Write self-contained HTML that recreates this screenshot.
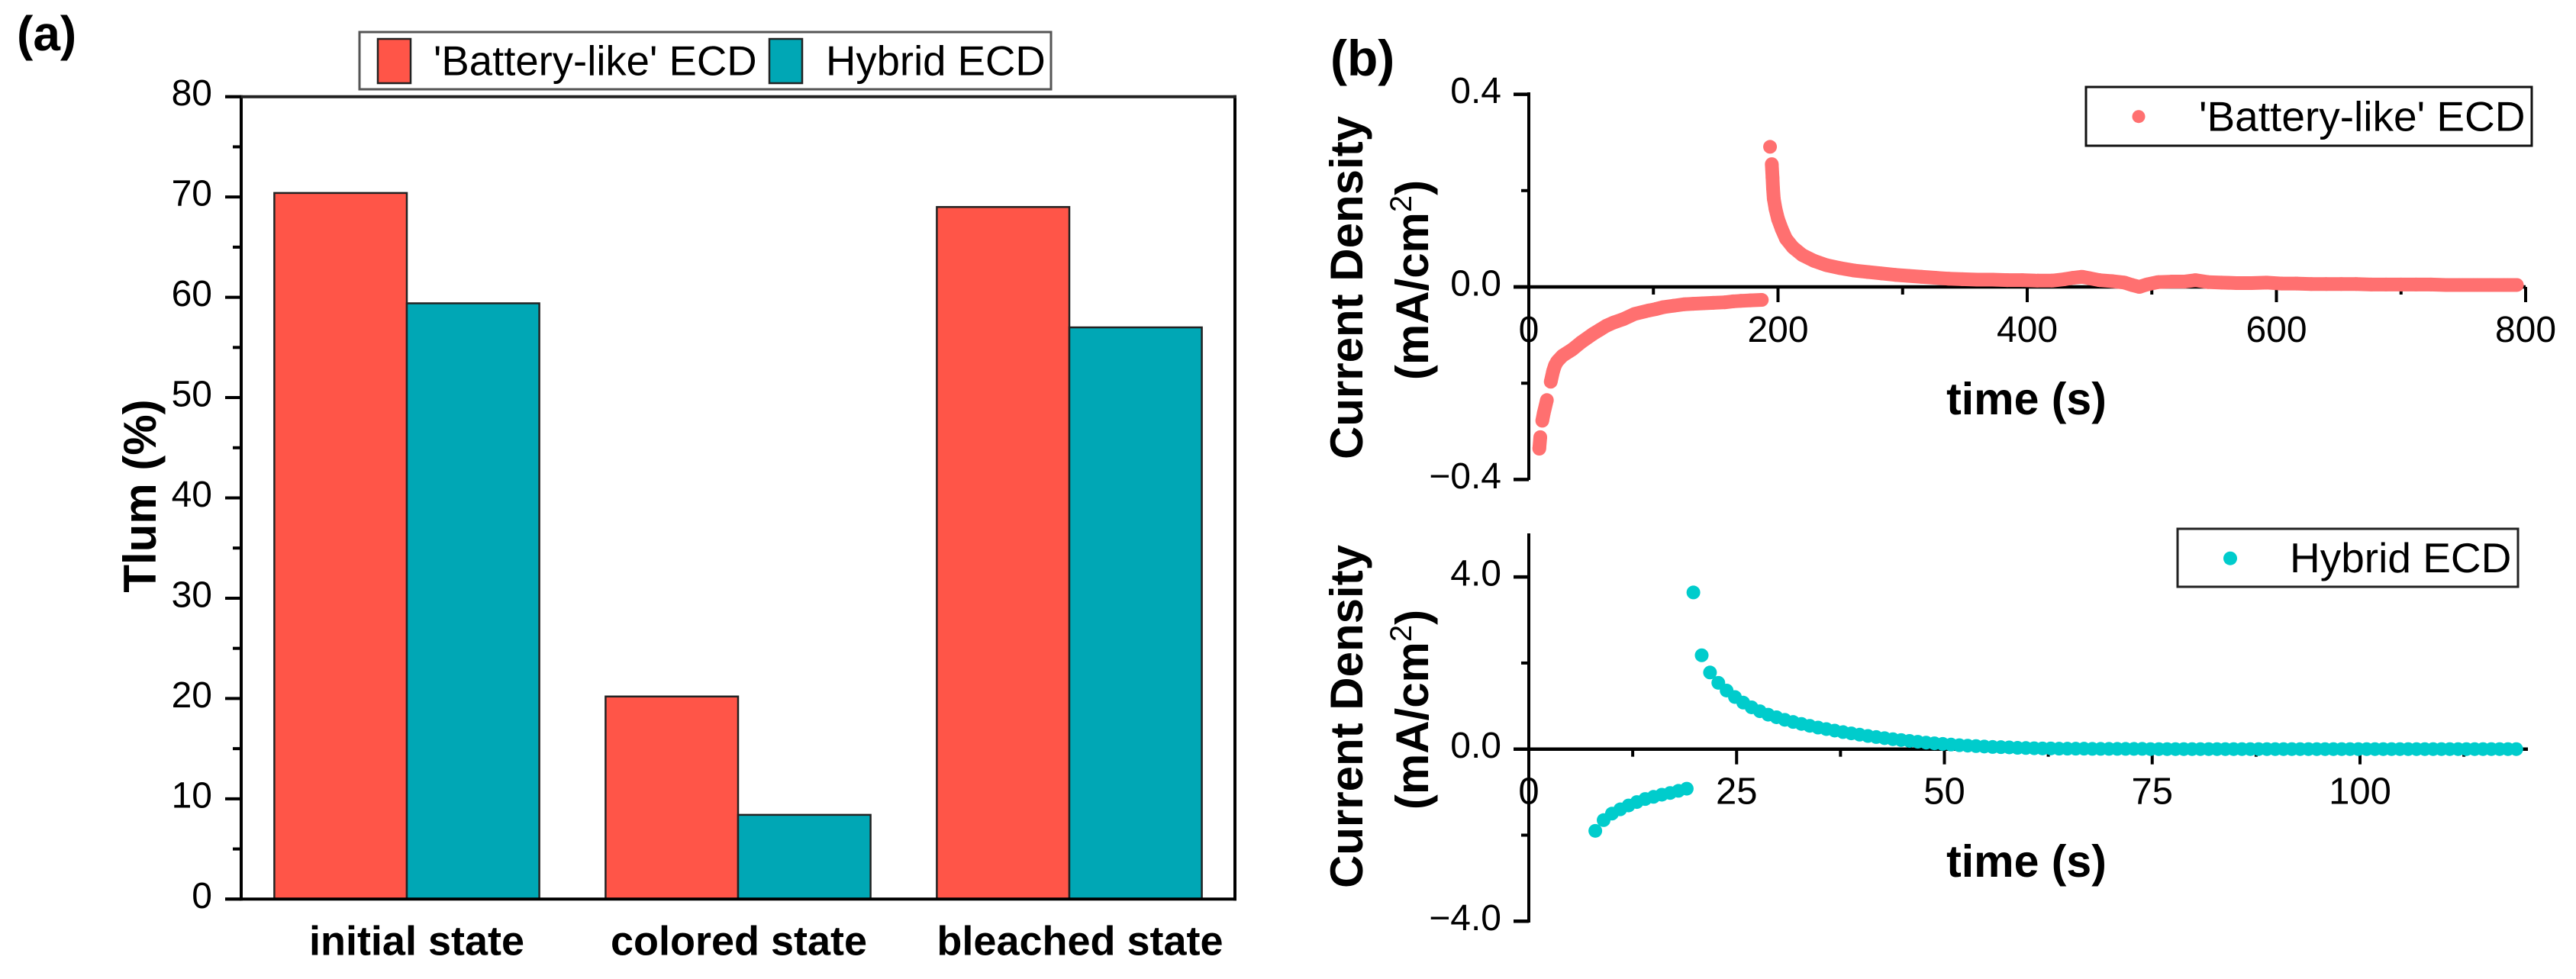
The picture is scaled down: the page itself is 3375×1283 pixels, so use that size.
<!DOCTYPE html>
<html lang="en">
<head>
<meta charset="utf-8">
<title>Tlum and current density of ECDs</title>
<style>
  html,body{margin:0;padding:0;background:#fff;}
  svg{display:block;font-family:"Liberation Sans",Arial,sans-serif;}
  .bold{font-weight:bold;}
</style>
</head>
<body>
<svg id="fig" xmlns="http://www.w3.org/2000/svg" width="3375" height="1283" viewBox="0 0 3375 1283">
  <rect x="0" y="0" width="3375" height="1283" fill="#fff"/>

  <text class="bold" x="22" y="66" font-size="64">(a)</text>
  <text class="bold" x="1743" y="99" font-size="66">(b)</text>

  <g id="panelA"></g>
  <g id="panelB1"></g>
  <g id="panelB2"></g>

  <text class="bold" font-size="60" text-anchor="middle" transform="translate(204,650) rotate(-90)">Tlum (%)</text>

  <g>
    <rect x="471" y="42" width="906" height="75" fill="#fff" stroke="#555" stroke-width="3"/>
    <rect x="495" y="51" width="43" height="58" fill="#FF5548" stroke="#222" stroke-width="2.5"/>
    <text x="568" y="98.5" font-size="54.5">'Battery-like' ECD</text>
    <rect x="1008" y="51" width="43" height="58" fill="#00A7B5" stroke="#222" stroke-width="2.5"/>
    <text x="1082" y="98.5" font-size="54.5">Hybrid ECD</text>
  </g>

  <text class="bold" font-size="60" text-anchor="middle" transform="translate(1785,377) rotate(-90)">Current Density</text>
  <text class="bold" font-size="60" text-anchor="middle" transform="translate(1871,367) rotate(-90)">(mA/cm<tspan font-size="40" font-weight="normal" dy="-22">2</tspan><tspan dy="22">)</tspan></text>
  <text class="bold" font-size="59" text-anchor="middle" x="2655" y="543">time (s)</text>
  <g>
    <rect x="2733" y="114" width="584" height="77" fill="#fff" stroke="#111" stroke-width="3"/>
    <circle cx="2802" cy="152.7" r="8.5" fill="#FF7070"/>
    <text x="2881" y="171.7" font-size="55">'Battery-like' ECD</text>
  </g>

  <text class="bold" font-size="60" text-anchor="middle" transform="translate(1785,939) rotate(-90)">Current Density</text>
  <text class="bold" font-size="60" text-anchor="middle" transform="translate(1871,930) rotate(-90)">(mA/cm<tspan font-size="40" font-weight="normal" dy="-22">2</tspan><tspan dy="22">)</tspan></text>
  <text class="bold" font-size="59" text-anchor="middle" x="2655" y="1149">time (s)</text>
  <g>
    <rect x="2853" y="693" width="446" height="76" fill="#fff" stroke="#222" stroke-width="3"/>
    <circle cx="2922" cy="731.7" r="9" fill="#00CCCC"/>
    <text x="3000" y="750" font-size="55">Hybrid ECD</text>
  </g>
</svg>
<script>
// ---- panel (a) data ----
const barCategories = ['initial state', 'colored state', 'bleached state'];
const batteryBars = [70.4, 20.2, 69.0];
const hybridBars = [59.4, 8.4, 57.0];
const barTicks = [0, 10, 20, 30, 40, 50, 60, 70, 80];
const barMinorTicks = [5, 15, 25, 35, 45, 55, 65, 75];

// ---- panel (b) upper data ----
const batteryTime = [8.4,9.2,10.8,12,14.5,17.6,19.5,21,22.7,27,34.9,42,51.3,57,62,68,75.8,85,96.2,102,108,116.4,125,132,140,148,157.4,164,170,178,187,
  193.6,195,195.6,196,196.6,198,200,203,206.4,212,219.6,229,239,250,261,272,283,294,304.5,315,326,337,348,360,372,384,396,408,420,430,437,444,450,458,468,478,484,490,496,505,516,526,535,545,556,568,580,592,604,616,628,640,652,664,676,688,700,712,724,736,748,760,772,784,793];
const batteryCurrent = [-0.336,-0.312,-0.278,-0.262,-0.235,-0.197,-0.175,-0.163,-0.155,-0.143,-0.130,-0.115,-0.098,-0.089,-0.081,-0.074,-0.067,-0.056,-0.049,-0.046,-0.042,-0.039,-0.036,-0.035,-0.034,-0.033,-0.032,-0.030,-0.029,-0.028,-0.027,
  0.291,0.255,0.227,0.205,0.183,0.162,0.141,0.12,0.1,0.082,0.066,0.054,0.045,0.039,0.034,0.031,0.028,0.025,0.023,0.021,0.019,0.017,0.016,0.015,0.015,0.014,0.014,0.013,0.013,0.016,0.019,0.021,0.018,0.014,0.012,0.009,0.004,0,0.005,0.01,0.011,0.011,0.014,0.01,0.009,0.008,0.008,0.009,0.007,0.007,0.006,0.006,0.006,0.006,0.005,0.005,0.005,0.005,0.005,0.004,0.004,0.004,0.004,0.004,0.004];
const batteryXTicks = [0, 200, 400, 600, 800];
const batteryXMinor = [100, 300, 500, 700];
const batteryYTicks = ['0.4', '0.0', '\u22120.4'];
const batteryYValues = [0.4, 0, -0.4];
const batteryYMinor = [0.2, -0.2];

// ---- panel (b) lower data ----
const hybridTime = [8,9,10,11,12,13,14,15,16,17,18,19,
  19.8,20.8,21.8,22.8,23.8,24.8,25.8,26.8,27.8,28.8,29.8,30.8,31.8,32.8,33.8,34.8,35.8,36.8,37.8,38.8,39.8,40.8,41.8,42.8,43.8,44.8,45.8,46.8,47.8,48.8,49.8,50.8,51.8,52.8,53.8,54.8,55.8,56.8,57.8,58.8,59.8,60.8,61.8,62.8,63.8,64.8,65.8,66.8,67.8,68.8,69.8,70.8,71.8,72.8,73.8,74.8,75.8,76.8,77.8,78.8,79.8,80.8,81.8,82.8,83.8,84.8,85.8,86.8,87.8,88.8,89.8,90.8,91.8,92.8,93.8,94.8,95.8,96.8,97.8,98.8,99.8,100.8,101.8,102.8,103.8,104.8,105.8,106.8,107.8,108.8,109.8,110.8,111.8,112.8,113.8,114.8,115.8,116.8,117.8,118.8];
const hybridCurrent = [-1.9,-1.65,-1.5,-1.4,-1.31,-1.23,-1.16,-1.11,-1.06,-1.02,-0.97,-0.92,
  3.64,2.18,1.78,1.54,1.36,1.21,1.08,0.97,0.88,0.8,0.74,0.68,0.63,0.585,0.54,0.5,0.465,0.43,0.395,0.365,0.335,0.305,0.28,0.255,0.23,0.21,0.19,0.17,0.15,0.135,0.12,0.105,0.09,0.08,0.07,0.06,0.05,0.045,0.04,0.03,0.025,0.02,0.015,0.015,0.01,0.01,0.01,0.01,0.005,0.005,0.005,0.005,0.005,0.005,0.005,0,0,0,0,0,0,0,0,0,0,0,0,0,0,0,0,0,0,0,0,0,0,0,0,0,0,0,0,0,0,0,0,0,0,0,0,0,0,0,0,0,0,0,0,0];
const hybridXTicks = [0, 25, 50, 75, 100];
const hybridXMinor = [12.5, 37.5, 62.5, 87.5, 112.5];
const hybridYTicks = ['4.0', '0.0', '\u22124.0'];
const hybridYValues = [4, 0, -4];
const hybridYMinor = [2, -2];

const NS = 'http://www.w3.org/2000/svg';
function mk(parent, tag, name, attrs, txt) {
  const el = document.createElementNS(NS, tag);
  
  
  for (const k in attrs) el.setAttribute(k, attrs[k]);
  if (txt !== undefined) el.textContent = txt;
  parent.appendChild(el);
  return el;
}
function line(parent, name, x1, y1, x2, y2, w, c) {
  return mk(parent, 'line', name, {x1, y1, x2, y2, stroke: c || '#000', 'stroke-width': w});
}

// ---- panel (a) ----
(function () {
  const g = document.getElementById('panelA');
  const L = 316, R = 1618, T = 126.7, B = 1178.3;
  const y = v => B - (v / 80) * (B - T);
  const band = (R - L) / barCategories.length;
  const cx = i => L + band * (i + 0.5);
  const bw = band * 0.4;
  barCategories.forEach((c, i) => {
    mk(g, 'rect', 'bar-battery-' + c.split(' ')[0], {x: cx(i) - bw, y: y(batteryBars[i]), width: bw, height: B - y(batteryBars[i]), fill: '#FF5548', stroke: '#222', 'stroke-width': 2.5});
    mk(g, 'rect', 'bar-hybrid-' + c.split(' ')[0], {x: cx(i), y: y(hybridBars[i]), width: bw, height: B - y(hybridBars[i]), fill: '#00A7B5', stroke: '#222', 'stroke-width': 2.5});
  });
  line(g, 'tlum-axis-left', L, T - 2, L, B + 2, 4);
  line(g, 'tlum-axis-right', R, T - 2, R, B + 2, 4);
  line(g, 'tlum-axis-top', 295, T, R + 2, T, 4, '#222');
  line(g, 'tlum-axis-bottom', 295, B, R + 2, B, 4);
  barTicks.forEach(v => {
    line(g, 'tlum-major-tick', 295, y(v), L, y(v), 4);
    mk(g, 'text', 'tlum-tick-label', {x: 278, y: y(v) + 11.5, 'text-anchor': 'end', 'font-size': 48}, String(v));
  });
  barMinorTicks.forEach(v => {
    line(g, 'tlum-minor-tick', 305, y(v), L, y(v), 4);
  });
  const labelShift = [13, 1, 14];
  barCategories.forEach((c, i) => {
    mk(g, 'text', 'category-label', {x: cx(i) + labelShift[i], y: 1251.7, 'text-anchor': 'middle', 'font-size': 54, 'font-weight': 'bold'}, c);
  });
})();

// ---- scatter panels ----
function scatter(g, opts) {
  const x = t => opts.x0 + t * opts.xs;
  const y = v => opts.y0 - v * opts.ys;
  const p = opts.prefix;
  line(g, p + '-y-axis', opts.x0, opts.axisTop, opts.x0, opts.axisBottom, 4);
  line(g, p + '-x-axis', 1983, opts.y0, opts.xEnd, opts.y0, 4.5);
  opts.yValues.forEach((v, i) => {
    line(g, p + '-y-major-tick', 1983, y(v), opts.x0, y(v), 4.5);
    mk(g, 'text', p + '-y-tick-label', {x: 1967, y: y(v) + 11.5, 'text-anchor': 'end', 'font-size': 48}, opts.yLabels[i]);
  });
  opts.yMinor.forEach(v => {
    line(g, p + '-y-minor-tick', 1993, y(v), opts.x0, y(v), 4);
  });
  opts.xTicks.forEach(t => {
    if (t !== 0) line(g, p + '-x-major-tick', x(t), opts.y0, x(t), opts.y0 + 20, 4);
    mk(g, 'text', p + '-x-tick-label', {x: x(t), y: opts.xLabelY, 'text-anchor': 'middle', 'font-size': opts.xFont}, String(t));
  });
  opts.xMinor.forEach(t => {
    line(g, p + '-x-minor-tick', x(t), opts.y0, x(t), opts.y0 + 10, 4);
  });
  for (let i = 1; i < opts.time.length; i++) {
    const x1 = x(opts.time[i - 1]), y1 = y(opts.values[i - 1]), x2 = x(opts.time[i]), y2 = y(opts.values[i]);
    if (Math.hypot(x2 - x1, y2 - y1) <= opts.join) {
      line(g, p + '-series-link', x1, y1, x2, y2, opts.r * 2, opts.color);
    }
  }
  opts.time.forEach((t, i) => {
    mk(g, 'circle', p + '-point', {cx: x(t), cy: y(opts.values[i]), r: opts.r, fill: opts.color});
  });
}
scatter(document.getElementById('panelB1'), {
  prefix: 'battery', x0: 2003, xs: 1.6325, y0: 376, ys: 631,
  axisTop: 121, axisBottom: 629, xEnd: 3309, xLabelY: 448, xFont: 48,
  time: batteryTime, values: batteryCurrent, xTicks: batteryXTicks, xMinor: batteryXMinor,
  yValues: batteryYValues, yLabels: batteryYTicks, yMinor: batteryYMinor,
  color: '#FF7070', r: 9, join: 20.5
});
scatter(document.getElementById('panelB2'), {
  prefix: 'hybrid', x0: 2003, xs: 10.89, y0: 981.7, ys: 56.4,
  axisTop: 699, axisBottom: 1209, xEnd: 3312, xLabelY: 1053.5, xFont: 49,
  time: hybridTime, values: hybridCurrent, xTicks: hybridXTicks, xMinor: hybridXMinor,
  yValues: hybridYValues, yLabels: hybridYTicks, yMinor: hybridYMinor,
  color: '#00CCCC', r: 9, join: 0
});
</script>
</body>
</html>
